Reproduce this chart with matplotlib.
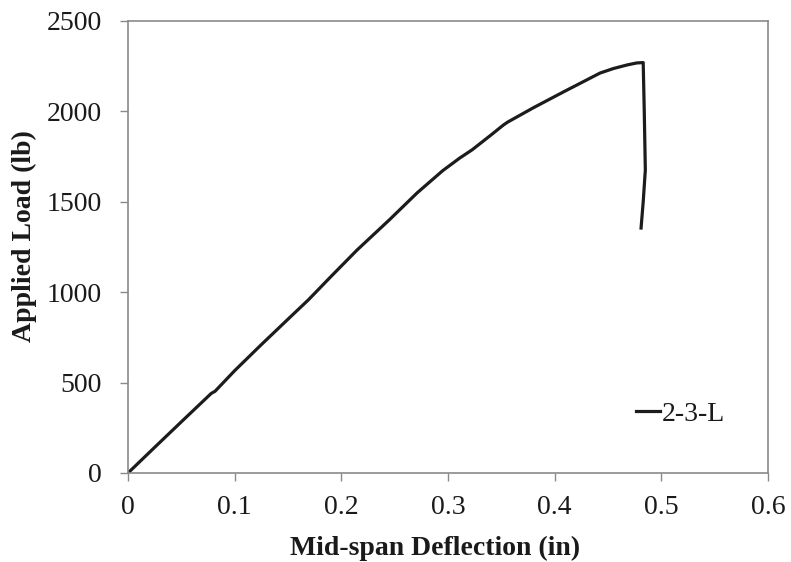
import matplotlib
matplotlib.use("Agg")
import matplotlib.pyplot as plt

# Load-deflection record for specimen 2-3-L
deflection_in = [0.0, 0.025, 0.05, 0.078, 0.0816, 0.1, 0.125, 0.152, 0.169, 0.19,
                 0.2147, 0.245, 0.271, 0.295, 0.311, 0.3225, 0.34, 0.352, 0.356,
                 0.38, 0.408, 0.4425, 0.455, 0.468, 0.477, 0.483, 0.484, 0.485,
                 0.483, 0.481]
load_lb = [0, 142, 283, 440, 452, 566, 710, 862, 957, 1085,
           1233, 1400, 1549, 1672, 1742, 1787, 1868, 1925, 1941,
           2020, 2107, 2212, 2237, 2257, 2268, 2270, 2000, 1676,
           1500, 1355]
series_name = "2-3-L"

x_ticks = [0, 0.1, 0.2, 0.3, 0.4, 0.5, 0.6]
x_tick_labels = ["0", "0.1", "0.2", "0.3", "0.4", "0.5", "0.6"]
y_ticks = [0, 500, 1000, 1500, 2000, 2500]

plt.rcParams["font.family"] = ["Liberation Serif", "DejaVu Serif"]

fig = plt.figure(figsize=(7.91, 5.62), dpi=100)
ax = fig.add_axes([128 / 791, 89 / 562, 640 / 791, 452 / 562])

ax.plot(deflection_in, load_lb, color="#1c1c1c", linewidth=2.3,
        solid_joinstyle="round", label=series_name)

ax.set_xlim(0, 0.6)
ax.set_ylim(0, 2500)
ax.set_xticks(x_ticks)
ax.set_xticklabels(x_tick_labels)
ax.set_yticks(y_ticks)

for side in ["left", "bottom", "top", "right"]:
    ax.spines[side].set_color("#8a8a8a")
    ax.spines[side].set_linewidth(1.2)

ax.tick_params(axis="both", direction="out", length=6, width=1.0,
               color="#8a8a8a", labelsize=20, labelcolor="#1a1a1a")
ax.tick_params(axis="y", pad=13)
ax.tick_params(axis="x", pad=10)

ax.set_xlabel("Mid-span Deflection (in)", fontsize=20, fontweight="bold",
              color="#1a1a1a")
ax.set_ylabel("Applied Load (lb)", fontsize=20, fontweight="bold",
              color="#1a1a1a")
ax.xaxis.set_label_coords(0.48, -0.14)
ax.yaxis.set_label_coords(-0.142, 0.525)

leg = ax.legend(loc="center left", bbox_to_anchor=(0.794, 0.1305), frameon=False,
                fontsize=20, handlelength=0.86, handletextpad=0.07,
                borderpad=0.0, borderaxespad=0.0)
for t in leg.get_texts():
    t.set_color("#1a1a1a")

fig.savefig("out.png", dpi=100, facecolor="white")
